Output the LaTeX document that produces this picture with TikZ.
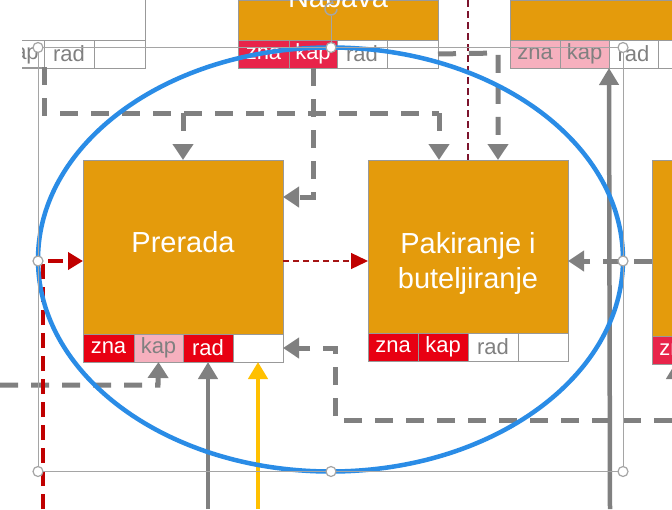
\documentclass[tikz,border=0pt]{standalone}
\usepackage{fontspec}
\setmainfont{Liberation Sans}
\usetikzlibrary{arrows.meta}

\definecolor{procorange}{RGB}{228,155,12}
\definecolor{cellred}{RGB}{232,0,18}
\definecolor{cellcrimson}{RGB}{232,36,74}
\definecolor{cellpink}{RGB}{246,176,190}
\definecolor{celltext}{RGB}{128,128,128}
\definecolor{flowgray}{RGB}{128,128,128}
\definecolor{framegray}{RGB}{165,165,165}
\definecolor{flowred}{RGB}{192,0,0}
\definecolor{thinred}{RGB}{165,20,20}
\definecolor{maroon}{RGB}{125,20,45}
\definecolor{selblue}{RGB}{42,140,230}
\definecolor{flowyellow}{RGB}{255,192,0}

\tikzset{
  procbox/.style={draw=flowgray!80, line width=0.8pt, fill=procorange, inner sep=0pt, outer sep=0pt,
    anchor=north west, text=white, align=center},
  proctext/.style={text=white, align=center, font=\fontsize{29}{35}\selectfont},
  cellbox/.style={draw=flowgray!80, line width=0.8pt, inner sep=0pt, outer sep=0pt, anchor=north west,
    minimum width=50pt, minimum height=28pt, font=\fontsize{22}{25}\selectfont},
  redcell/.style={cellbox, fill=cellred, text=white},
  crimcell/.style={cellbox, fill=cellcrimson, text=white},
  pinkcell/.style={cellbox, fill=cellpink, text=celltext},
  whitecell/.style={cellbox, fill=white, text=celltext},
  dashflow/.style={draw=flowgray, line width=5pt, dash pattern=on 18pt off 13pt,
    -{Triangle[width=20pt,length=16pt]}},
  dashline/.style={draw=flowgray, line width=5pt, dash pattern=on 18pt off 13pt},
  solidflow/.style={draw=flowgray, line width=4.5pt, -{Triangle[width=19pt,length=17pt]}},
  yellowflow/.style={draw=flowyellow, line width=4.5pt, -{Triangle[width=19pt,length=17pt]}},
  reddash/.style={draw=flowred, line width=4.5pt, dash pattern=on 15pt off 8pt,
    -{Triangle[width=17pt,length=15pt]}},
  thinreddash/.style={draw=thinred, line width=1.3pt, dash pattern=on 6pt off 4pt,
    -{Triangle[width=16pt,length=17pt,fill=flowred,color=flowred]}},
  maroondash/.style={draw=maroon, line width=1.6pt, dash pattern=on 7pt off 4pt},
  frameline/.style={draw=framegray, line width=1pt},
  handle/.style={circle, draw=framegray, line width=1.2pt, fill=white, inner sep=0pt, minimum size=10pt},
}

\begin{document}
\begin{tikzpicture}[x=1pt,y=-1pt]
\useasboundingbox (0,0) rectangle (672,509);
\clip (0,0) rectangle (672,509);
\fill[white] (0,0) rectangle (672,509);

% ---- partly visible boxes along the top ----
% left box (only its counters)
\draw[frameline, draw=flowgray!80] (145,0) -- (145,40);
\begin{scope}
  \clip (22,30) rectangle (200,80);
  \node[whitecell, minimum width=50pt] (tl-kap) at (-4,40) {kap};
\end{scope}
\node[whitecell] (tl-rad) at (44,40) {rad};
\node[whitecell, minimum width=51pt] (tl-e) at (94,40) {};
\draw[draw=flowgray!80, line width=0.8pt] (22,40) -- (44,40) (22,67) -- (44,67);

% centre box
\node[procbox, minimum width=200pt, minimum height=40pt] (nab) at (238,0) {};
\node[proctext, anchor=base] (nabtxt) at (338,7) {Nabava};
\node[crimcell, minimum width=51pt] (nab-zna) at (238,40) {zna};
\node[crimcell, minimum width=48pt] (nab-kap) at (289,40) {kap};
\node[whitecell] (nab-rad) at (337,40) {rad};
\node[whitecell, minimum width=51pt] (nab-e) at (387,40) {};

% right box
\node[procbox, minimum width=170pt, minimum height=40pt] (top-r) at (510,0) {};
\node[pinkcell, minimum width=50pt] (tr-zna) at (510,40) {zna};
\node[pinkcell, minimum width=49pt] (tr-kap) at (560,40) {kap};
\node[whitecell, minimum width=49pt] (tr-rad) at (609,40) {rad};
\node[whitecell] (tr-e) at (658,40) {};

% ---- main process boxes ----
\node[procbox, minimum width=200pt, minimum height=174pt] (prer) at (83,160) {};
\node[proctext] (prertxt) at (183,242) {Prerada};
\node[redcell, minimum width=51pt] (prer-zna) at (83,334) {zna};
\node[pinkcell, minimum width=49pt] (prer-kap) at (134,334) {kap};
\node[redcell] (prer-rad) at (183,334) {rad};
\node[whitecell] (prer-e) at (233,334) {};

\node[procbox, minimum width=200pt, minimum height=173pt] (pak) at (368,160) {};
\node[proctext] (paktxt) at (468,263) {Pakiranje i\\buteljiranje};
\node[redcell] (pak-zna) at (368,333) {zna};
\node[redcell] (pak-kap) at (418,333) {kap};
\node[whitecell] (pak-rad) at (468,333) {rad};
\node[whitecell] (pak-e) at (518,333) {};

% box at the right edge
\node[procbox, minimum width=40pt, minimum height=176pt] (nextbox) at (652,160) {};
\node[crimcell] (next-zna) at (652,336) {zna};

% ---- flows ----
\coordinate (tlsrc) at (44,67);
\coordinate (c1) at (44,113);
\coordinate (c2) at (439,113);
\coordinate (c3) at (183,113);
\draw[dashline] (tlsrc) -- (c1) -- (c2);
\draw[dashflow] (c2) -- (pak.north -| c2);
\draw[dashflow] (c3) -- (prer.north);

\coordinate (c4) at (313,197);
\draw[dashflow] (nab-kap.south) -- (c4) -- (prer.east |- c4);

\coordinate (c5) at (498,53);
\draw[dashflow] (nab-e.east) -- (c5) -- (pak.north -| c5);

\coordinate (mid) at (0,261);
\draw[dashflow] (nextbox.west |- mid) -- (pak.east |- mid);

\coordinate (c6) at (672,420);
\coordinate (c7) at (335,420);
\coordinate (c8) at (335,348);
\draw[dashflow] (c6) -- (c7) -- (c8) -- (prer-e.east);

\coordinate (c9) at (0,385);
\coordinate (c10) at (158,385);
\draw[dashflow] (c9) -- (c10) -- (prer-kap.south);

\coordinate (b1) at (208,509);
\draw[solidflow] (b1) -- (prer-rad.south);
\coordinate (b2) at (258,509);
\draw[yellowflow] (b2) -- (prer-e.south);
\coordinate (b3) at (610,509);
\draw[solidflow] (b3) -- (tr-rad.south west);
\coordinate (b4) at (676,509);
\draw[solidflow] (b4) -- (676,362);

\coordinate (r1) at (43,509);
\coordinate (r2) at (43,261);
\draw[reddash] (r1) -- (r2) -- (prer.west |- r2);

\draw[thinreddash] (prer.east |- mid) -- (pak.west |- mid);

\coordinate (m1) at (468,0);
\draw[maroondash] (m1) -- (pak.north);

% ---- selected ellipse with its frame ----
\draw[draw=selblue, line width=4.5pt] (330.5,259.5) ellipse [x radius=292.5, y radius=212];
\draw[frameline] (38,47.5) rectangle (623,471.5);
\draw[frameline] (331,47.5) -- (331,16);
\draw[draw=framegray, line width=1.5pt, -{Stealth[length=4pt,width=5pt]}] (337,9) arc[start angle=0, end angle=300, radius=6];
\foreach \hx/\hy [count=\i] in {38/47.5, 331/47.5, 623/47.5, 38/261, 623/261, 38/471.5, 331/471.5, 623/471.5}
  \node[handle] (h\i) at (\hx,\hy) {};
\end{tikzpicture}
\end{document}
